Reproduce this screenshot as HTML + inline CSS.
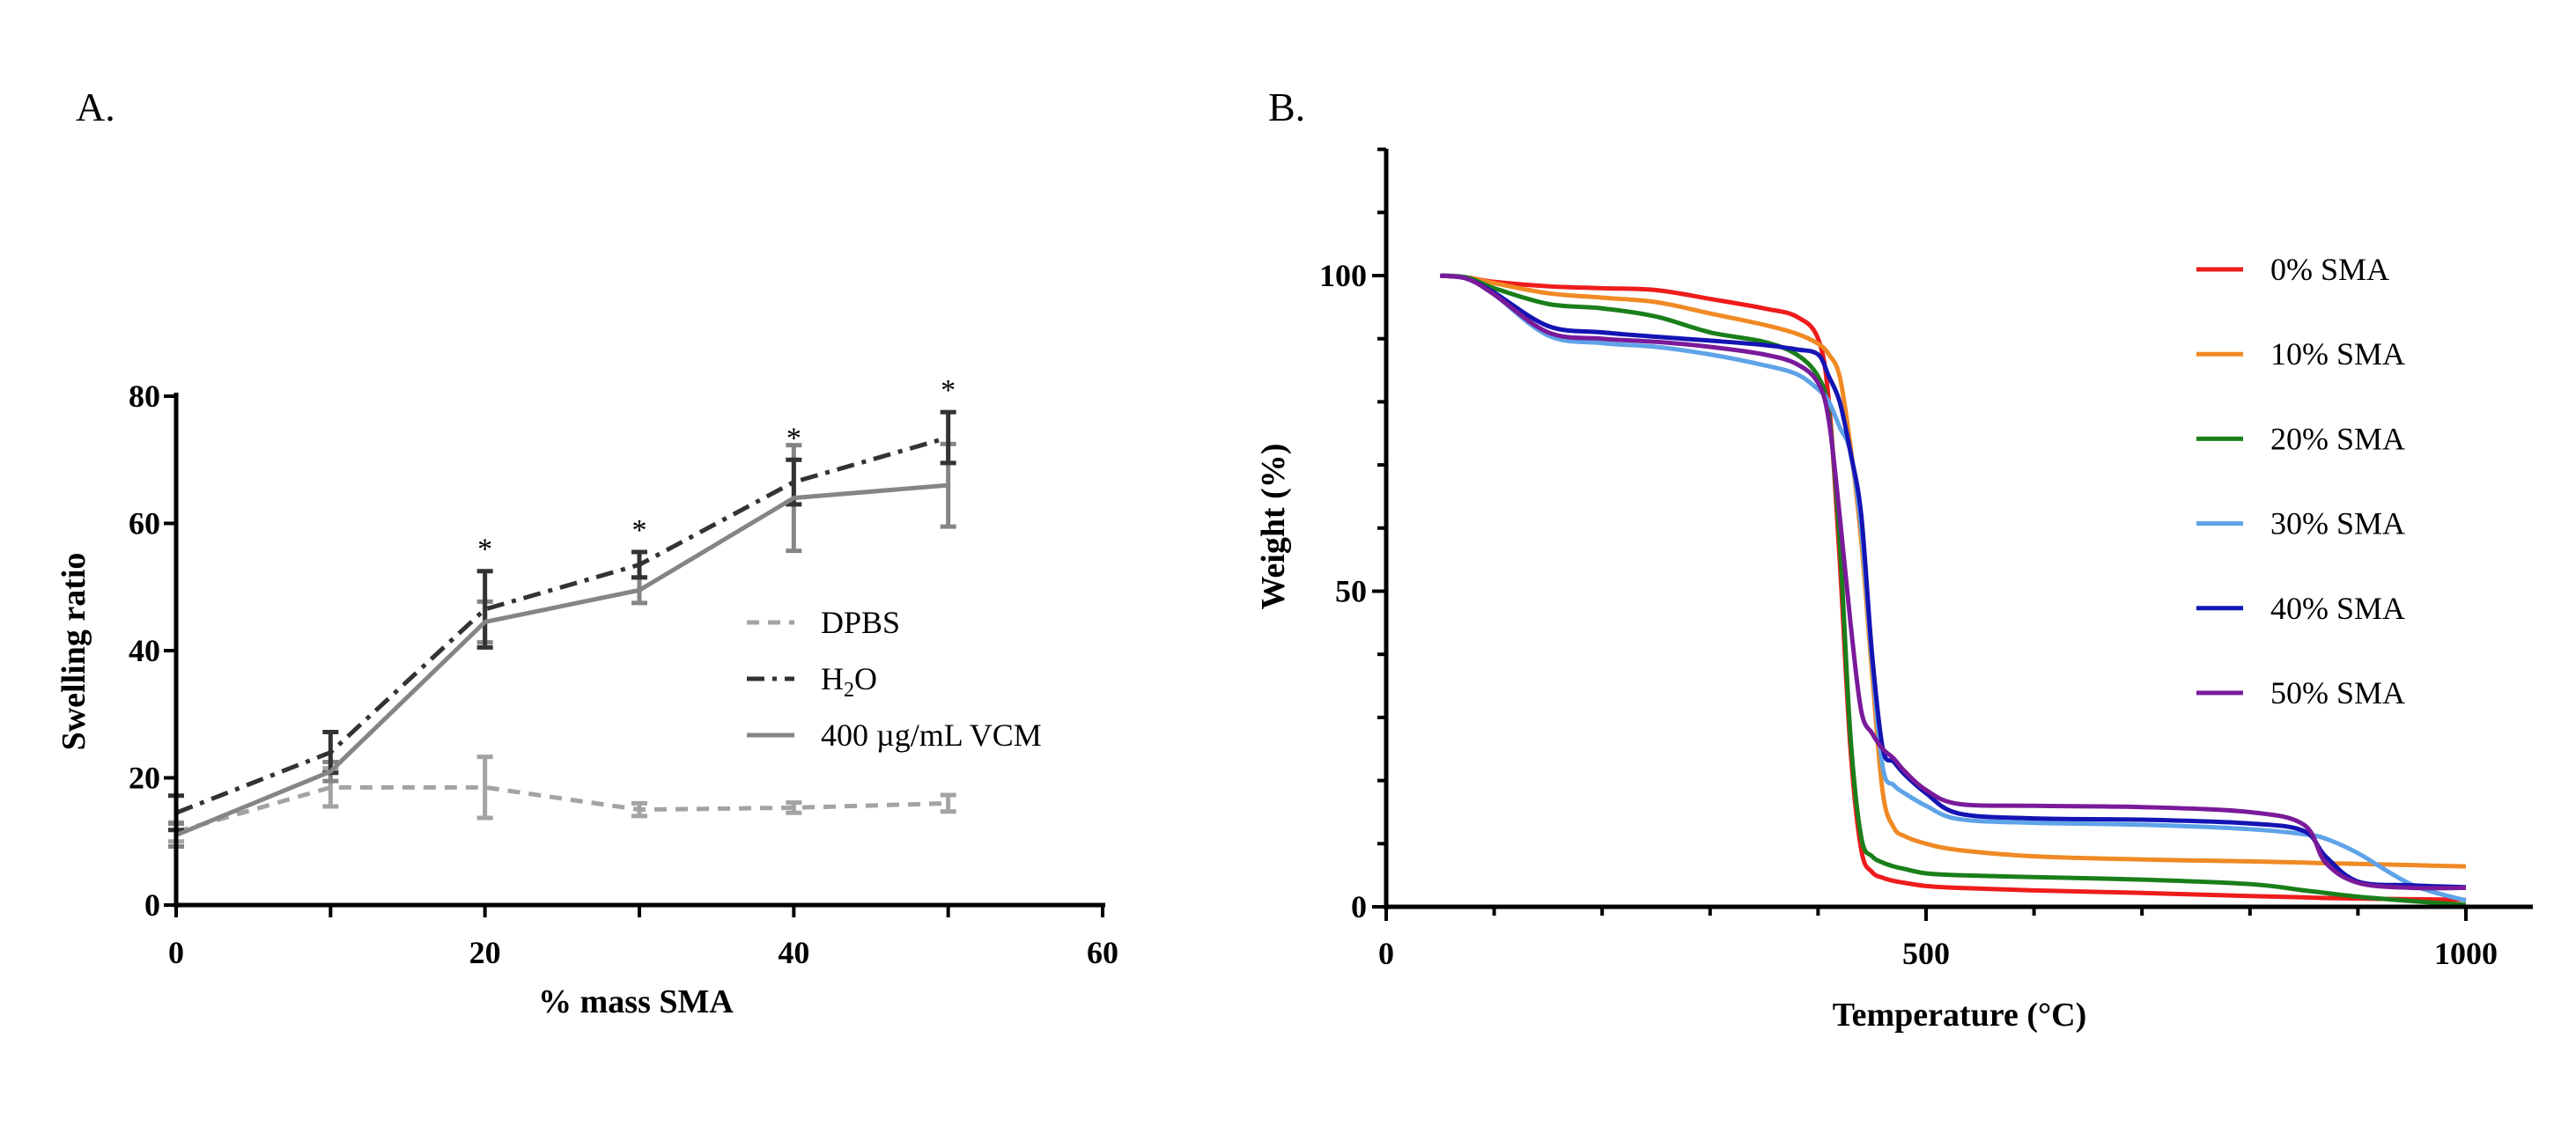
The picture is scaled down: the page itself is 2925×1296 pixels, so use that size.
<!DOCTYPE html>
<html><head><meta charset="utf-8"><style>
body{margin:0;background:#fff}
svg{display:block;font-family:"Liberation Serif",serif}
</style></head><body>
<svg id="s" width="2925" height="1296" xmlns="http://www.w3.org/2000/svg">
<text x="86" y="137" font-size="46">A.</text>
<text x="1440" y="137" font-size="46">B.</text>
<g id="A"></g>
<g id="B"></g>
</svg>
<script>
// ---- Chart A data ----
const massSMA=[0,10,20,30,40,50];
const dpbsMean=[11.5,18.5,18.5,15,15.3,16];
const dpbsErr=[1.5,3,4.8,1,0.8,1.3];
const h2oMean=[14.5,24,46.5,53.5,66.5,73.5];
const h2oErr=[2.7,3.2,6,2,3.5,4];
const vcmMean=[11,21,44.5,49.5,64,66];
const vcmErr=[1.8,1.5,3.2,2,8.3,6.5];
const starIdx=[2,3,4,5];
const aYTicks=[0,20,40,60,80];
const aXTicks=[0,20,40,60];
// ---- Chart B data ----
const temps=[50,75,100,150,200,250,300,350,380,400,410,420,430,440,450,460,470,480,500,530,600,700,800,850,870,900,950,1000];
const w0=[100,99.7,99,98.3,98,97.7,96.3,94.8,93.5,90,80,55,25,9,5.5,4.6,4.1,3.8,3.3,3.0,2.6,2.2,1.7,1.5,1.4,1.3,1.2,1.1];
const w10=[100,99.7,98.8,97.2,96.5,95.8,94,92.2,90.8,89.2,87.5,84,73,58,37,18,12.6,11.2,10,9,8,7.5,7.2,7,6.9,6.8,6.6,6.4];
const w20=[100,99.7,98,95.5,94.8,93.5,91,89.5,87.5,84,78,58,27,11,8,7,6.4,6,5.3,5,4.7,4.3,3.6,2.6,2.2,1.6,0.9,0.3];
const w30=[100,99.5,97,90.5,89.3,88.7,87.5,85.8,84.4,82,80,76,72,60,39,22,19.3,18,16,13.9,13.3,13,12.3,11.5,10.8,8.5,3.5,1.0];
const w40=[100,99.5,97.3,92,91,90.3,89.7,89,88.3,87.5,84,80,72,62,40,25,23,21,18,14.8,14,13.8,13.2,12,8,4,3.4,3.1];
const w50=[100,99.5,97,91,90,89.5,88.7,87.5,86,83,77,62,45,31,27.5,25,23.5,21.5,18.5,16.3,16,15.8,15,13,7,3.8,3,3];
const bSeries=[w0,w10,w20,w30,w40,w50];
const bLabels=["0% SMA","10% SMA","20% SMA","30% SMA","40% SMA","50% SMA"];
const bColors=["#ee1c1c","#f08a24","#1a7f1a","#5fa3e8","#1414b4","#7a1a9a"];
const bXTicks=[0,500,1000];
const bYTicks=[0,50,100];

const NS="http://www.w3.org/2000/svg";
function mk(p,t,a,txt){const e=document.createElementNS(NS,t);for(const k in a)e.setAttribute(k,a[k]);if(txt!==undefined)e.textContent=txt;p.appendChild(e);return e;}
function smooth(pts){let d='M'+pts[0][0]+','+pts[0][1];
 for(let i=0;i<pts.length-1;i++){const p0=pts[Math.max(i-1,0)],p1=pts[i],p2=pts[i+1],p3=pts[Math.min(i+2,pts.length-1)];
  const c1=[p1[0]+(p2[0]-p0[0])/6,p1[1]+(p2[1]-p0[1])/6],c2=[p2[0]-(p3[0]-p1[0])/6,p2[1]-(p3[1]-p1[1])/6];
  d+=' C'+c1[0]+','+c1[1]+' '+c2[0]+','+c2[1]+' '+p2[0]+','+p2[1];}
 return d;}

// ---- Chart A ----
const A=document.getElementById('A');
const ax=v=>200+v*(1252-200)/60, ay=v=>1028-v*(1028-450)/80;
function errBars(xs,m,e,col,w){xs.forEach((x,i)=>{const X=ax(x),t=ay(m[i]+e[i]),b=ay(m[i]-e[i]);
 const g=mk(A,'g',{stroke:col,'stroke-width':w});
 
 
 mk(g,'line',{x1:X,x2:X,y1:t,y2:b});mk(g,'line',{x1:X-9,x2:X+9,y1:t,y2:t});mk(g,'line',{x1:X-9,x2:X+9,y1:b,y2:b});});}
function line(xs,m,col,dash,name){const p=mk(A,'polyline',{points:xs.map((x,i)=>ax(x)+','+ay(m[i])).join(' '),fill:'none',stroke:col,'stroke-width':5,'stroke-dasharray':dash});
 
 }
errBars(massSMA,dpbsMean,dpbsErr,'#a3a3a3',5);
line(massSMA,dpbsMean,'#a3a3a3','14 10','dpbs-line');
errBars(massSMA,vcmMean,vcmErr,'#858585',5);
errBars(massSMA,h2oMean,h2oErr,'#333',5);
line(massSMA,h2oMean,'#333','20 9 5 9','h2o-line');
line(massSMA,vcmMean,'#858585','','vcm-line');
starIdx.forEach(i=>{const s=mk(A,'text',{x:ax(massSMA[i]),y:ay(h2oMean[i]+h2oErr[i])-14,'font-size':34,'text-anchor':'middle'},'*');
 
 });
mk(A,'line',{x1:200,x2:200,y1:446,y2:1031,stroke:'#000','stroke-width':5});
mk(A,'line',{x1:198,x2:1255,y1:1028,y2:1028,stroke:'#000','stroke-width':5});
for(let v=0;v<=60;v+=10)mk(A,'line',{x1:ax(v),x2:ax(v),y1:1028,y2:1042,stroke:'#000','stroke-width':4});
aYTicks.forEach(v=>{mk(A,'line',{x1:186,x2:200,y1:ay(v),y2:ay(v),stroke:'#000','stroke-width':4});
 const t=mk(A,'text',{x:182,y:ay(v)+12,'font-size':36,'font-weight':'bold','text-anchor':'end'},v);
 
 });
aXTicks.forEach(v=>{const t=mk(A,'text',{x:ax(v),y:1094,'font-size':36,'font-weight':'bold','text-anchor':'middle'},v);
 
 });
let t=mk(A,'text',{x:722,y:1150,'font-size':38,'font-weight':'bold','text-anchor':'middle'},'% mass SMA');

t=mk(A,'text',{x:0,y:0,'font-size':38,'font-weight':'bold','text-anchor':'middle',transform:'translate(96,740) rotate(-90)'},'Swelling ratio');

const legA=[["DPBS",'#a3a3a3','14 10'],["H2O",'#333','20 9 5 9'],["400 µg/mL VCM",'#858585','']];
legA.forEach((l,i)=>{const y=707+i*64;mk(A,'line',{x1:848,x2:902,y1:y,y2:y,stroke:l[1],'stroke-width':5,'stroke-dasharray':l[2]});
 const tx=mk(A,'text',{x:932,y:y+12,'font-size':36});
 
 if(l[0]==="H2O"){tx.textContent='H';mk(tx,'tspan',{'font-size':24,dy:8},'2');mk(tx,'tspan',{dy:-8},'O');}else tx.textContent=l[0];});

// ---- Chart B ----
const B=document.getElementById('B');
const bx=v=>1574+v*(2800-1574)/1000, by=v=>1030-v*(1030-313)/100;
bSeries.forEach((w,s)=>{const p=mk(B,'path',{d:smooth(temps.map((x,i)=>[bx(x),by(w[i])])),fill:'none',stroke:bColors[s],'stroke-width':5,'stroke-linejoin':'round'});
 
 });
mk(B,'line',{x1:1574,x2:1574,y1:169,y2:1033,stroke:'#000','stroke-width':5});
mk(B,'line',{x1:1572,x2:2876,y1:1030,y2:1030,stroke:'#000','stroke-width':5});
for(let v=0;v<=1000;v+=100)mk(B,'line',{x1:bx(v),x2:bx(v),y1:1030,y2:v%500?1040:1046,stroke:'#000','stroke-width':4});
for(let v=0;v<=120;v+=10)mk(B,'line',{x1:v%50?1564:1558,x2:1574,y1:by(v),y2:by(v),stroke:'#000','stroke-width':4});
bYTicks.forEach(v=>{const t=mk(B,'text',{x:1552,y:by(v)+12,'font-size':36,'font-weight':'bold','text-anchor':'end'},v);
 });
bXTicks.forEach(v=>{const t=mk(B,'text',{x:bx(v),y:1095,'font-size':36,'font-weight':'bold','text-anchor':'middle'},v);
 });
t=mk(B,'text',{x:2225,y:1165,'font-size':38,'font-weight':'bold','text-anchor':'middle'},'Temperature (°C)');

t=mk(B,'text',{x:0,y:0,'font-size':38,'font-weight':'bold','text-anchor':'middle',transform:'translate(1458,598) rotate(-90)'},'Weight (%)');

bLabels.forEach((l,i)=>{const y=306+i*96.2;mk(B,'line',{x1:2494,x2:2547,y1:y,y2:y,stroke:bColors[i],'stroke-width':5});
 const tx=mk(B,'text',{x:2578,y:y+12,'font-size':36},l);
 });
</script>
</body></html>
